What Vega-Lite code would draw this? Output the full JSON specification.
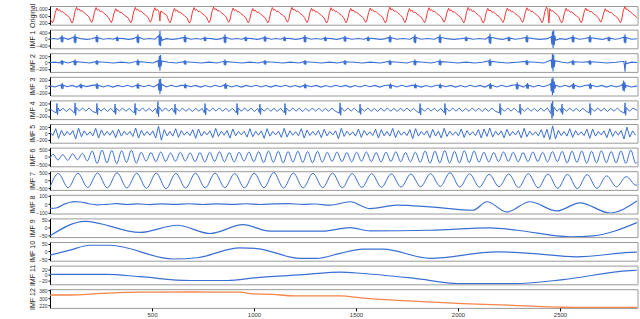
{
"$schema": "https://vega.github.io/schema/vega-lite/v6.json",
"padding": {"left": 27, "top": 2, "right": 2, "bottom": 0},
"bounds": "flush",
"spacing": 4.6,
"config": {
 "font": "Liberation Sans",
 "view": {"stroke": "#9a9a9a", "strokeWidth": 1},
 "axis": {"grid": false, "domainColor": "#000", "tickColor": "#000", "labelColor": "#333", "titleColor": "#222", "titleFontWeight": "normal"},
 "axisY": {"labelFontSize": 5, "tickSize": 2, "labelPadding": 1, "titleFontSize": 7, "titlePadding": 2, "minExtent": 13, "maxExtent": 13},
 "axisX": {"labelFontSize": 6, "tickSize": 3, "labelPadding": 1, "domain": false}
},
"datasets": {
"o": [
{"t":0,"v":450},{"t":6,"v":320},{"t":12,"v":210},{"t":18,"v":350},{"t":26,"v":790},{"t":34,"v":1040},{"t":40,"v":890},{"t":46,"v":950},{"t":54,"v":820},{"t":62,"v":840},{"t":72,"v":720},{"t":84,"v":620},
{"t":96,"v":500},{"t":102,"v":310},{"t":108,"v":190},{"t":114,"v":330},{"t":122,"v":830},{"t":130,"v":1080},{"t":136,"v":930},{"t":142,"v":990},{"t":150,"v":860},{"t":158,"v":880},{"t":168,"v":760},{"t":180,"v":660},
{"t":192,"v":520},{"t":198,"v":350},{"t":204,"v":230},{"t":210,"v":370},{"t":218,"v":810},{"t":226,"v":1060},{"t":232,"v":910},{"t":238,"v":970},{"t":246,"v":840},{"t":254,"v":860},{"t":264,"v":740},{"t":276,"v":640},
{"t":288,"v":480},{"t":294,"v":340},{"t":300,"v":220},{"t":306,"v":360},{"t":314,"v":750},{"t":322,"v":1000},{"t":328,"v":860},{"t":334,"v":910},{"t":342,"v":780},{"t":350,"v":800},{"t":360,"v":680},{"t":372,"v":580},
{"t":384,"v":470},{"t":390,"v":320},{"t":396,"v":200},{"t":402,"v":340},{"t":410,"v":820},{"t":418,"v":1070},{"t":424,"v":920},{"t":430,"v":980},{"t":438,"v":850},{"t":446,"v":870},{"t":456,"v":750},{"t":468,"v":650},
{"t":480,"v":510},{"t":486,"v":360},{"t":492,"v":240},{"t":498,"v":380},{"t":506,"v":800},{"t":514,"v":1050},{"t":520,"v":900},{"t":526,"v":960},{"t":534,"v":830},{"t":539,"v":300},{"t":542,"v":850},{"t":550,"v":820},{"t":560,"v":730},{"t":572,"v":630},
{"t":576,"v":500},{"t":582,"v":330},{"t":588,"v":210},{"t":594,"v":350},{"t":602,"v":770},{"t":610,"v":1020},{"t":616,"v":870},{"t":622,"v":930},{"t":630,"v":800},{"t":638,"v":820},{"t":648,"v":700},{"t":660,"v":600},
{"t":672,"v":480},{"t":678,"v":310},{"t":684,"v":190},{"t":690,"v":330},{"t":698,"v":810},{"t":706,"v":1060},{"t":712,"v":910},{"t":718,"v":970},{"t":726,"v":840},{"t":734,"v":860},{"t":744,"v":740},{"t":756,"v":640},
{"t":768,"v":510},{"t":774,"v":340},{"t":780,"v":220},{"t":786,"v":360},{"t":794,"v":840},{"t":802,"v":1090},{"t":808,"v":940},{"t":814,"v":1000},{"t":822,"v":870},{"t":830,"v":890},{"t":840,"v":770},{"t":852,"v":670},
{"t":864,"v":530},{"t":870,"v":350},{"t":876,"v":230},{"t":882,"v":370},{"t":890,"v":790},{"t":898,"v":1040},{"t":904,"v":890},{"t":910,"v":950},{"t":918,"v":820},{"t":926,"v":840},{"t":936,"v":720},{"t":948,"v":620},
{"t":960,"v":490},{"t":966,"v":320},{"t":972,"v":200},{"t":978,"v":340},{"t":986,"v":760},{"t":994,"v":1010},{"t":1000,"v":860},{"t":1006,"v":920},{"t":1014,"v":790},{"t":1022,"v":810},{"t":1032,"v":690},{"t":1044,"v":590},
{"t":1056,"v":470},{"t":1062,"v":330},{"t":1068,"v":210},{"t":1074,"v":350},{"t":1082,"v":810},{"t":1090,"v":1060},{"t":1096,"v":910},{"t":1102,"v":970},{"t":1110,"v":840},{"t":1118,"v":860},{"t":1128,"v":740},{"t":1140,"v":640},
{"t":1152,"v":520},{"t":1158,"v":360},{"t":1164,"v":240},{"t":1170,"v":380},{"t":1178,"v":820},{"t":1186,"v":1070},{"t":1192,"v":920},{"t":1198,"v":980},{"t":1206,"v":850},{"t":1214,"v":870},{"t":1224,"v":750},{"t":1236,"v":650},
{"t":1248,"v":510},{"t":1254,"v":340},{"t":1260,"v":220},{"t":1266,"v":360},{"t":1274,"v":780},{"t":1282,"v":1030},{"t":1288,"v":880},{"t":1294,"v":940},{"t":1302,"v":810},{"t":1310,"v":830},{"t":1320,"v":710},{"t":1332,"v":610},
{"t":1344,"v":480},{"t":1350,"v":310},{"t":1356,"v":190},{"t":1362,"v":330},{"t":1370,"v":800},{"t":1378,"v":1050},{"t":1384,"v":900},{"t":1390,"v":960},{"t":1398,"v":830},{"t":1406,"v":850},{"t":1416,"v":730},{"t":1428,"v":630},
{"t":1440,"v":490},{"t":1446,"v":330},{"t":1452,"v":210},{"t":1458,"v":350},{"t":1466,"v":770},{"t":1474,"v":1020},{"t":1480,"v":870},{"t":1486,"v":930},{"t":1494,"v":800},{"t":1502,"v":820},{"t":1512,"v":700},{"t":1524,"v":600},
{"t":1536,"v":480},{"t":1542,"v":350},{"t":1548,"v":230},{"t":1554,"v":370},{"t":1562,"v":790},{"t":1570,"v":1040},{"t":1576,"v":890},{"t":1582,"v":950},{"t":1590,"v":820},{"t":1598,"v":840},{"t":1608,"v":720},{"t":1620,"v":620},
{"t":1632,"v":500},{"t":1638,"v":320},{"t":1644,"v":200},{"t":1650,"v":340},{"t":1658,"v":830},{"t":1666,"v":1080},{"t":1672,"v":930},{"t":1678,"v":990},{"t":1686,"v":860},{"t":1694,"v":880},{"t":1704,"v":760},{"t":1716,"v":660},
{"t":1728,"v":520},{"t":1734,"v":340},{"t":1740,"v":220},{"t":1746,"v":360},{"t":1754,"v":760},{"t":1762,"v":1010},{"t":1768,"v":860},{"t":1774,"v":920},{"t":1782,"v":790},{"t":1790,"v":810},{"t":1800,"v":690},{"t":1812,"v":590},
{"t":1824,"v":470},{"t":1830,"v":330},{"t":1836,"v":210},{"t":1842,"v":350},{"t":1850,"v":800},{"t":1858,"v":1050},{"t":1864,"v":900},{"t":1870,"v":960},{"t":1878,"v":830},{"t":1886,"v":850},{"t":1896,"v":730},{"t":1908,"v":630},
{"t":1920,"v":510},{"t":1926,"v":360},{"t":1932,"v":240},{"t":1938,"v":380},{"t":1946,"v":780},{"t":1954,"v":1030},{"t":1960,"v":880},{"t":1966,"v":940},{"t":1974,"v":810},{"t":1982,"v":830},{"t":1992,"v":710},{"t":2004,"v":610},
{"t":2016,"v":490},{"t":2022,"v":320},{"t":2028,"v":200},{"t":2034,"v":340},{"t":2042,"v":820},{"t":2050,"v":1070},{"t":2056,"v":920},{"t":2062,"v":980},{"t":2070,"v":850},{"t":2078,"v":870},{"t":2088,"v":750},{"t":2100,"v":650},
{"t":2112,"v":510},{"t":2118,"v":310},{"t":2124,"v":190},{"t":2130,"v":330},{"t":2138,"v":770},{"t":2146,"v":1020},{"t":2152,"v":870},{"t":2158,"v":930},{"t":2166,"v":800},{"t":2174,"v":820},{"t":2184,"v":700},{"t":2196,"v":600},
{"t":2208,"v":480},{"t":2214,"v":340},{"t":2220,"v":220},{"t":2226,"v":360},{"t":2234,"v":790},{"t":2242,"v":1040},{"t":2248,"v":890},{"t":2254,"v":950},{"t":2262,"v":820},{"t":2270,"v":840},{"t":2280,"v":720},{"t":2292,"v":620},
{"t":2304,"v":500},{"t":2310,"v":350},{"t":2316,"v":230},{"t":2322,"v":370},{"t":2330,"v":800},{"t":2338,"v":1050},{"t":2344,"v":900},{"t":2350,"v":960},{"t":2358,"v":830},{"t":2366,"v":850},{"t":2376,"v":730},{"t":2388,"v":630},
{"t":2400,"v":490},{"t":2406,"v":330},{"t":2412,"v":210},{"t":2418,"v":350},{"t":2426,"v":840},{"t":2434,"v":1090},{"t":2440,"v":940},{"t":2446,"v":200},{"t":2450,"v":1000},{"t":2456,"v":870},{"t":2464,"v":890},{"t":2474,"v":770},{"t":2486,"v":670},
{"t":2496,"v":520},{"t":2502,"v":320},{"t":2508,"v":200},{"t":2514,"v":340},{"t":2522,"v":770},{"t":2530,"v":1020},{"t":2536,"v":870},{"t":2542,"v":930},{"t":2550,"v":800},{"t":2558,"v":820},{"t":2568,"v":700},{"t":2580,"v":600},
{"t":2592,"v":500},{"t":2598,"v":340},{"t":2604,"v":220},{"t":2610,"v":360},{"t":2618,"v":790},{"t":2626,"v":1040},{"t":2632,"v":890},{"t":2638,"v":950},{"t":2646,"v":820},{"t":2654,"v":840},{"t":2664,"v":720},{"t":2676,"v":620},
{"t":2688,"v":490},{"t":2694,"v":360},{"t":2700,"v":240},{"t":2706,"v":380},{"t":2714,"v":750},{"t":2722,"v":1000},{"t":2728,"v":850},{"t":2734,"v":910},{"t":2742,"v":780},{"t":2750,"v":800},{"t":2760,"v":680},{"t":2772,"v":580},
{"t":2784,"v":470},{"t":2790,"v":330},{"t":2796,"v":210},{"t":2802,"v":350},{"t":2810,"v":870},{"t":2818,"v":1120},{"t":2824,"v":950},{"t":2830,"v":990},{"t":2838,"v":860},{"t":2846,"v":820},{"t":2856,"v":700},{"t":2868,"v":600},{"t":2879,"v":480}
],
"a1": [
{"t":0,"v":0},{"t":20,"v":25},{"t":40,"v":-20},
{"t":53,"v":100},{"t":56,"v":-200},{"t":59,"v":250},{"t":62,"v":-225},{"t":65,"v":75},{"t":90,"v":-25},
{"t":117,"v":120},{"t":120,"v":-240},{"t":123,"v":300},{"t":126,"v":-270},{"t":129,"v":90},{"t":150,"v":20},{"t":180,"v":-25},{"t":205,"v":15},
{"t":224,"v":100},{"t":227,"v":-200},{"t":230,"v":250},{"t":233,"v":-225},{"t":236,"v":75},{"t":260,"v":-20},{"t":290,"v":25},{"t":310,"v":-15},
{"t":324,"v":60},{"t":327,"v":-120},{"t":330,"v":150},{"t":333,"v":-135},{"t":336,"v":45},{"t":360,"v":20},{"t":385,"v":-25},{"t":410,"v":20},
{"t":425,"v":120},{"t":428,"v":-240},{"t":431,"v":300},{"t":434,"v":-270},{"t":437,"v":90},{"t":460,"v":-20},{"t":490,"v":25},{"t":515,"v":-20},
{"t":533,"v":210},{"t":536,"v":-420},{"t":539,"v":520},{"t":542,"v":-470},{"t":545,"v":160},{"t":549,"v":-80},{"t":570,"v":20},{"t":600,"v":-25},{"t":630,"v":20},
{"t":656,"v":100},{"t":659,"v":-200},{"t":662,"v":250},{"t":665,"v":-225},{"t":668,"v":75},{"t":690,"v":-20},{"t":720,"v":25},{"t":740,"v":-15},
{"t":754,"v":60},{"t":757,"v":-120},{"t":760,"v":150},{"t":763,"v":-135},{"t":766,"v":45},{"t":790,"v":20},{"t":815,"v":-25},{"t":840,"v":20},
{"t":852,"v":120},{"t":855,"v":-240},{"t":858,"v":300},{"t":861,"v":-270},{"t":864,"v":90},{"t":890,"v":-20},{"t":915,"v":25},{"t":940,"v":-20},
{"t":954,"v":60},{"t":957,"v":-120},{"t":960,"v":150},{"t":963,"v":-135},{"t":966,"v":45},{"t":990,"v":20},{"t":1015,"v":-25},{"t":1035,"v":20},
{"t":1048,"v":80},{"t":1051,"v":-160},{"t":1054,"v":200},{"t":1057,"v":-180},{"t":1060,"v":60},{"t":1085,"v":-20},{"t":1110,"v":25},{"t":1130,"v":-20},
{"t":1144,"v":60},{"t":1147,"v":-120},{"t":1150,"v":150},{"t":1153,"v":-135},{"t":1156,"v":45},{"t":1180,"v":20},{"t":1205,"v":-25},{"t":1230,"v":20},
{"t":1244,"v":100},{"t":1247,"v":-200},{"t":1250,"v":250},{"t":1253,"v":-225},{"t":1256,"v":75},{"t":1280,"v":-20},{"t":1305,"v":25},{"t":1330,"v":-20},
{"t":1344,"v":60},{"t":1347,"v":-120},{"t":1350,"v":150},{"t":1353,"v":-135},{"t":1356,"v":45},{"t":1380,"v":20},{"t":1405,"v":-25},{"t":1425,"v":20},
{"t":1440,"v":80},{"t":1443,"v":-160},{"t":1446,"v":200},{"t":1449,"v":-180},{"t":1452,"v":60},{"t":1480,"v":-20},{"t":1510,"v":25},{"t":1540,"v":-20},
{"t":1554,"v":60},{"t":1557,"v":-120},{"t":1560,"v":150},{"t":1563,"v":-135},{"t":1566,"v":45},{"t":1590,"v":20},{"t":1620,"v":-25},{"t":1645,"v":20},
{"t":1661,"v":100},{"t":1664,"v":-200},{"t":1667,"v":250},{"t":1670,"v":-225},{"t":1673,"v":75},{"t":1700,"v":-20},{"t":1730,"v":25},{"t":1765,"v":-20},
{"t":1783,"v":120},{"t":1786,"v":-240},{"t":1789,"v":300},{"t":1792,"v":-270},{"t":1795,"v":90},{"t":1820,"v":-20},{"t":1850,"v":25},{"t":1885,"v":-20},
{"t":1906,"v":120},{"t":1909,"v":-240},{"t":1912,"v":300},{"t":1915,"v":-270},{"t":1918,"v":90},{"t":1945,"v":20},{"t":1980,"v":-25},{"t":2015,"v":20},
{"t":2034,"v":60},{"t":2037,"v":-120},{"t":2040,"v":150},{"t":2043,"v":-135},{"t":2046,"v":45},{"t":2075,"v":-20},{"t":2105,"v":25},{"t":2135,"v":-20},
{"t":2151,"v":140},{"t":2154,"v":-280},{"t":2157,"v":350},{"t":2160,"v":-315},{"t":2163,"v":105},{"t":2190,"v":20},{"t":2220,"v":-25},
{"t":2244,"v":60},{"t":2247,"v":-120},{"t":2250,"v":150},{"t":2253,"v":-135},{"t":2256,"v":45},{"t":2280,"v":-20},{"t":2310,"v":25},
{"t":2332,"v":100},{"t":2335,"v":-200},{"t":2338,"v":250},{"t":2341,"v":-225},{"t":2344,"v":75},{"t":2370,"v":20},{"t":2400,"v":-25},{"t":2440,"v":20},
{"t":2457,"v":150},{"t":2460,"v":-350},{"t":2463,"v":500},{"t":2466,"v":-580},{"t":2469,"v":560},{"t":2472,"v":-400},{"t":2475,"v":200},{"t":2479,"v":-80},{"t":2500,"v":20},{"t":2530,"v":-25},
{"t":2558,"v":100},{"t":2561,"v":-200},{"t":2564,"v":250},{"t":2567,"v":-225},{"t":2570,"v":75},{"t":2595,"v":-20},{"t":2625,"v":25},
{"t":2641,"v":100},{"t":2644,"v":-200},{"t":2647,"v":250},{"t":2650,"v":-225},{"t":2653,"v":75},{"t":2680,"v":20},{"t":2710,"v":-25},
{"t":2734,"v":60},{"t":2737,"v":-120},{"t":2740,"v":150},{"t":2743,"v":-135},{"t":2746,"v":45},{"t":2770,"v":-20},{"t":2795,"v":25},
{"t":2813,"v":120},{"t":2816,"v":-240},{"t":2819,"v":300},{"t":2822,"v":-270},{"t":2825,"v":90},{"t":2850,"v":-20},{"t":2879,"v":10}
],
"a2": [
{"t":0,"v":0},{"t":25,"v":12},{"t":45,"v":-10},
{"t":53,"v":30},{"t":56,"v":-60},{"t":59,"v":80},{"t":62,"v":-70},{"t":65,"v":25},{"t":90,"v":-12},
{"t":117,"v":40},{"t":120,"v":-80},{"t":123,"v":100},{"t":126,"v":-90},{"t":129,"v":30},{"t":160,"v":12},{"t":195,"v":-12},
{"t":224,"v":30},{"t":227,"v":-60},{"t":230,"v":80},{"t":233,"v":-70},{"t":236,"v":25},{"t":270,"v":12},{"t":310,"v":-12},{"t":350,"v":12},{"t":390,"v":-12},
{"t":425,"v":40},{"t":428,"v":-80},{"t":431,"v":100},{"t":434,"v":-90},{"t":437,"v":30},{"t":470,"v":12},{"t":505,"v":-12},
{"t":530,"v":60},{"t":533,"v":-150},{"t":536,"v":220},{"t":539,"v":-260},{"t":542,"v":240},{"t":545,"v":-120},{"t":548,"v":50},{"t":580,"v":12},{"t":620,"v":-12},
{"t":656,"v":30},{"t":659,"v":-60},{"t":662,"v":80},{"t":665,"v":-70},{"t":668,"v":25},{"t":700,"v":12},{"t":740,"v":-12},{"t":780,"v":12},{"t":820,"v":-12},
{"t":852,"v":40},{"t":855,"v":-80},{"t":858,"v":100},{"t":861,"v":-90},{"t":864,"v":30},{"t":900,"v":12},{"t":940,"v":-12},{"t":980,"v":12},{"t":1020,"v":-12},
{"t":1048,"v":30},{"t":1051,"v":-60},{"t":1054,"v":80},{"t":1057,"v":-70},{"t":1060,"v":25},{"t":1100,"v":12},{"t":1140,"v":-12},{"t":1180,"v":12},{"t":1220,"v":-12},
{"t":1244,"v":30},{"t":1247,"v":-60},{"t":1250,"v":80},{"t":1253,"v":-70},{"t":1256,"v":25},{"t":1290,"v":12},{"t":1330,"v":-12},{"t":1370,"v":12},{"t":1410,"v":-12},
{"t":1440,"v":30},{"t":1443,"v":-60},{"t":1446,"v":80},{"t":1449,"v":-70},{"t":1452,"v":25},{"t":1490,"v":12},{"t":1530,"v":-12},{"t":1570,"v":12},{"t":1620,"v":-12},
{"t":1661,"v":35},{"t":1664,"v":-70},{"t":1667,"v":90},{"t":1670,"v":-80},{"t":1673,"v":25},{"t":1710,"v":12},{"t":1750,"v":-12},
{"t":1783,"v":40},{"t":1786,"v":-80},{"t":1789,"v":100},{"t":1792,"v":-90},{"t":1795,"v":30},{"t":1830,"v":12},{"t":1870,"v":-12},
{"t":1906,"v":40},{"t":1909,"v":-80},{"t":1912,"v":100},{"t":1915,"v":-90},{"t":1918,"v":30},{"t":1960,"v":12},{"t":2000,"v":-12},{"t":2040,"v":12},{"t":2080,"v":-12},{"t":2120,"v":12},
{"t":2151,"v":50},{"t":2154,"v":-100},{"t":2157,"v":120},{"t":2160,"v":-110},{"t":2163,"v":35},{"t":2200,"v":12},{"t":2240,"v":-12},{"t":2290,"v":12},
{"t":2332,"v":35},{"t":2335,"v":-70},{"t":2338,"v":90},{"t":2341,"v":-80},{"t":2344,"v":25},{"t":2380,"v":12},{"t":2420,"v":-12},
{"t":2457,"v":80},{"t":2460,"v":-180},{"t":2463,"v":270},{"t":2466,"v":-290},{"t":2469,"v":250},{"t":2472,"v":-150},{"t":2476,"v":60},{"t":2510,"v":12},{"t":2540,"v":-12},
{"t":2558,"v":35},{"t":2561,"v":-70},{"t":2564,"v":90},{"t":2567,"v":-80},{"t":2570,"v":25},{"t":2610,"v":12},
{"t":2641,"v":30},{"t":2644,"v":-60},{"t":2647,"v":80},{"t":2650,"v":-70},{"t":2653,"v":25},{"t":2690,"v":12},{"t":2730,"v":-12},{"t":2775,"v":12},
{"t":2813,"v":40},{"t":2816,"v":-100},{"t":2819,"v":-290},{"t":2822,"v":60},{"t":2825,"v":-40},{"t":2850,"v":12},{"t":2879,"v":0}
],
"a3": [
{"t":0,"v":10},{"t":24,"v":-25},{"t":48,"v":30},
{"t":54,"v":40},{"t":57,"v":-80},{"t":60,"v":100},{"t":63,"v":-90},{"t":66,"v":30},
{"t":84,"v":-20},{"t":108,"v":25},{"t":132,"v":-30},
{"t":146,"v":30},{"t":149,"v":-60},{"t":152,"v":80},{"t":155,"v":-70},{"t":158,"v":25},
{"t":180,"v":-15},{"t":204,"v":25},
{"t":225,"v":40},{"t":228,"v":-80},{"t":231,"v":100},{"t":234,"v":-90},{"t":237,"v":30},
{"t":260,"v":-25},{"t":284,"v":20},{"t":308,"v":-30},{"t":332,"v":25},{"t":356,"v":-20},{"t":380,"v":30},{"t":404,"v":-25},
{"t":425,"v":35},{"t":428,"v":-70},{"t":431,"v":90},{"t":434,"v":-80},{"t":437,"v":30},
{"t":460,"v":-20},{"t":484,"v":30},{"t":508,"v":-25},
{"t":530,"v":60},{"t":533,"v":-140},{"t":536,"v":220},{"t":539,"v":-260},{"t":542,"v":240},{"t":545,"v":-150},{"t":548,"v":60},
{"t":570,"v":-25},{"t":594,"v":30},{"t":618,"v":-20},{"t":642,"v":25},
{"t":657,"v":30},{"t":660,"v":-60},{"t":663,"v":80},{"t":666,"v":-70},{"t":669,"v":25},
{"t":690,"v":-20},{"t":714,"v":25},{"t":738,"v":-30},{"t":762,"v":20},{"t":786,"v":-25},{"t":810,"v":30},{"t":834,"v":-20},
{"t":855,"v":40},{"t":858,"v":-80},{"t":861,"v":100},{"t":864,"v":-90},{"t":867,"v":30},
{"t":890,"v":-25},{"t":914,"v":20},{"t":938,"v":-30},{"t":962,"v":25},{"t":986,"v":-20},{"t":1010,"v":30},{"t":1034,"v":-25},{"t":1058,"v":20},{"t":1082,"v":-30},{"t":1106,"v":25},{"t":1130,"v":-20},{"t":1154,"v":30},{"t":1178,"v":-25},{"t":1202,"v":20},{"t":1226,"v":-30},
{"t":1245,"v":30},{"t":1248,"v":-60},{"t":1251,"v":80},{"t":1254,"v":-70},{"t":1257,"v":25},
{"t":1280,"v":-20},{"t":1304,"v":25},{"t":1328,"v":-30},{"t":1352,"v":20},{"t":1376,"v":-25},{"t":1400,"v":30},{"t":1424,"v":-20},{"t":1448,"v":25},{"t":1472,"v":-30},{"t":1496,"v":20},{"t":1520,"v":-25},{"t":1544,"v":30},{"t":1568,"v":-20},{"t":1592,"v":25},{"t":1616,"v":-30},{"t":1640,"v":20},
{"t":1663,"v":35},{"t":1666,"v":-70},{"t":1669,"v":90},{"t":1672,"v":-80},{"t":1675,"v":30},
{"t":1700,"v":-25},{"t":1724,"v":30},{"t":1748,"v":-20},{"t":1772,"v":25},
{"t":1785,"v":30},{"t":1788,"v":-60},{"t":1791,"v":80},{"t":1794,"v":-70},{"t":1797,"v":25},
{"t":1820,"v":-30},{"t":1844,"v":20},{"t":1868,"v":-25},{"t":1892,"v":30},
{"t":1907,"v":30},{"t":1910,"v":-60},{"t":1913,"v":80},{"t":1916,"v":-70},{"t":1919,"v":25},
{"t":1940,"v":-20},{"t":1964,"v":25},{"t":1988,"v":-30},{"t":2012,"v":20},{"t":2036,"v":-25},{"t":2060,"v":30},{"t":2084,"v":-20},{"t":2108,"v":25},{"t":2132,"v":-30},
{"t":2153,"v":40},{"t":2156,"v":-80},{"t":2159,"v":100},{"t":2162,"v":-90},{"t":2165,"v":30},
{"t":2190,"v":-25},{"t":2214,"v":30},{"t":2238,"v":-20},{"t":2262,"v":25},
{"t":2284,"v":45},{"t":2287,"v":-95},{"t":2290,"v":120},{"t":2293,"v":-105},{"t":2296,"v":35},
{"t":2320,"v":-30},
{"t":2335,"v":40},{"t":2338,"v":-80},{"t":2341,"v":100},{"t":2344,"v":-85},{"t":2347,"v":30},
{"t":2370,"v":-25},{"t":2394,"v":30},{"t":2418,"v":-20},{"t":2442,"v":25},
{"t":2454,"v":80},{"t":2457,"v":-160},{"t":2460,"v":240},{"t":2463,"v":-290},{"t":2466,"v":280},{"t":2469,"v":-220},{"t":2472,"v":150},{"t":2475,"v":-80},{"t":2479,"v":30},
{"t":2500,"v":-25},{"t":2524,"v":30},{"t":2548,"v":-20},
{"t":2560,"v":40},{"t":2563,"v":-80},{"t":2566,"v":100},{"t":2569,"v":-90},{"t":2572,"v":30},
{"t":2596,"v":-25},{"t":2620,"v":20},
{"t":2643,"v":40},{"t":2646,"v":-80},{"t":2649,"v":100},{"t":2652,"v":-90},{"t":2655,"v":30},
{"t":2680,"v":-20},{"t":2704,"v":25},{"t":2728,"v":-30},{"t":2752,"v":20},{"t":2776,"v":-25},{"t":2800,"v":20},
{"t":2806,"v":60},{"t":2809,"v":-140},{"t":2812,"v":180},{"t":2815,"v":-170},{"t":2818,"v":120},{"t":2821,"v":-60},{"t":2825,"v":20},
{"t":2850,"v":-25},{"t":2879,"v":10}
],
"a4": [
{"t":0,"v":30},{"t":16,"v":-50},
{"t":31,"v":-100},{"t":34,"v":200},{"t":37,"v":-160},{"t":40,"v":60},
{"t":48,"v":-40},{"t":64,"v":50},{"t":80,"v":-60},{"t":96,"v":40},{"t":112,"v":-50},
{"t":120,"v":-110},{"t":123,"v":220},{"t":126,"v":-180},{"t":129,"v":70},
{"t":144,"v":-40},{"t":160,"v":55},{"t":176,"v":-45},{"t":192,"v":60},{"t":208,"v":-50},
{"t":227,"v":-100},{"t":230,"v":200},{"t":233,"v":-160},{"t":236,"v":60},
{"t":250,"v":-45},{"t":266,"v":50},{"t":282,"v":-60},{"t":298,"v":45},
{"t":316,"v":-90},{"t":319,"v":180},{"t":322,"v":-150},{"t":325,"v":50},
{"t":340,"v":-40},{"t":356,"v":55},{"t":372,"v":-50},{"t":388,"v":40},{"t":404,"v":-55},
{"t":414,"v":-100},{"t":417,"v":200},{"t":420,"v":-170},{"t":423,"v":60},
{"t":438,"v":-45},{"t":454,"v":60},{"t":470,"v":-50},{"t":486,"v":45},{"t":502,"v":-60},{"t":518,"v":50},
{"t":526,"v":-130},{"t":529,"v":260},{"t":532,"v":-230},{"t":535,"v":90},
{"t":550,"v":-50},{"t":566,"v":60},{"t":582,"v":-45},{"t":598,"v":50},
{"t":610,"v":-90},{"t":613,"v":180},{"t":616,"v":-150},{"t":619,"v":50},
{"t":634,"v":-45},{"t":650,"v":55},{"t":666,"v":-50},{"t":682,"v":40},{"t":698,"v":-60},{"t":714,"v":50},{"t":730,"v":-45},{"t":746,"v":40},
{"t":757,"v":-100},{"t":760,"v":200},{"t":763,"v":-170},{"t":766,"v":60},
{"t":782,"v":-50},{"t":798,"v":55},{"t":814,"v":-45},{"t":830,"v":60},{"t":846,"v":-50},{"t":862,"v":45},{"t":878,"v":-55},{"t":894,"v":50},
{"t":914,"v":-100},{"t":917,"v":200},{"t":920,"v":-170},{"t":923,"v":60},
{"t":938,"v":-50},{"t":954,"v":55},{"t":970,"v":-45},{"t":986,"v":50},{"t":1002,"v":-60},{"t":1018,"v":45},
{"t":1026,"v":-90},{"t":1029,"v":180},{"t":1032,"v":-150},{"t":1035,"v":50},
{"t":1050,"v":-45},{"t":1066,"v":55},{"t":1082,"v":-50},{"t":1098,"v":45},{"t":1114,"v":-55},{"t":1130,"v":50},
{"t":1149,"v":-100},{"t":1152,"v":200},{"t":1155,"v":-170},{"t":1158,"v":60},
{"t":1174,"v":-50},{"t":1190,"v":55},{"t":1206,"v":-45},{"t":1222,"v":50},{"t":1238,"v":-60},{"t":1254,"v":45},{"t":1270,"v":-50},{"t":1286,"v":55},{"t":1302,"v":-45},{"t":1318,"v":50},{"t":1334,"v":-55},{"t":1350,"v":45},{"t":1366,"v":-50},{"t":1382,"v":55},{"t":1398,"v":-45},
{"t":1419,"v":-110},{"t":1422,"v":220},{"t":1425,"v":-180},{"t":1428,"v":70},
{"t":1444,"v":-50},{"t":1460,"v":55},{"t":1476,"v":-45},{"t":1492,"v":50},{"t":1508,"v":-55},
{"t":1517,"v":-90},{"t":1520,"v":180},{"t":1523,"v":-150},{"t":1526,"v":50},
{"t":1542,"v":-45},{"t":1558,"v":55},{"t":1574,"v":-50},{"t":1590,"v":45},{"t":1606,"v":-55},{"t":1622,"v":50},{"t":1638,"v":-45},{"t":1654,"v":55},{"t":1670,"v":-50},{"t":1686,"v":45},{"t":1702,"v":-55},{"t":1718,"v":50},{"t":1734,"v":-45},{"t":1750,"v":55},{"t":1766,"v":-50},{"t":1782,"v":45},{"t":1798,"v":-55},
{"t":1811,"v":-100},{"t":1814,"v":200},{"t":1817,"v":-170},{"t":1820,"v":60},
{"t":1836,"v":-50},{"t":1852,"v":55},{"t":1868,"v":-45},{"t":1884,"v":50},{"t":1900,"v":-55},{"t":1916,"v":45},
{"t":1933,"v":-100},{"t":1936,"v":200},{"t":1939,"v":-170},{"t":1942,"v":60},
{"t":1958,"v":-50},{"t":1974,"v":55},{"t":1990,"v":-45},{"t":2006,"v":50},{"t":2022,"v":-55},{"t":2038,"v":45},{"t":2054,"v":-50},{"t":2070,"v":55},{"t":2086,"v":-45},{"t":2102,"v":50},{"t":2118,"v":-55},{"t":2134,"v":45},{"t":2150,"v":-50},{"t":2166,"v":55},{"t":2182,"v":-45},
{"t":2203,"v":-100},{"t":2206,"v":200},{"t":2209,"v":-170},{"t":2212,"v":60},
{"t":2228,"v":-50},{"t":2244,"v":55},{"t":2260,"v":-45},{"t":2276,"v":50},{"t":2292,"v":-55},
{"t":2301,"v":-90},{"t":2304,"v":180},{"t":2307,"v":-150},{"t":2310,"v":50},
{"t":2326,"v":-45},{"t":2342,"v":55},{"t":2358,"v":-50},{"t":2374,"v":45},{"t":2390,"v":-55},{"t":2406,"v":50},{"t":2422,"v":-45},{"t":2438,"v":55},
{"t":2455,"v":-120},{"t":2458,"v":200},{"t":2461,"v":-280},{"t":2464,"v":280},{"t":2467,"v":-200},{"t":2470,"v":90},
{"t":2486,"v":-50},{"t":2500,"v":45},
{"t":2507,"v":-90},{"t":2510,"v":180},{"t":2513,"v":-150},{"t":2516,"v":50},
{"t":2532,"v":-45},{"t":2548,"v":55},{"t":2564,"v":-50},{"t":2580,"v":45},{"t":2596,"v":-55},{"t":2612,"v":50},{"t":2628,"v":-45},
{"t":2644,"v":-100},{"t":2647,"v":200},{"t":2650,"v":-170},{"t":2653,"v":60},
{"t":2669,"v":-50},{"t":2685,"v":55},{"t":2701,"v":-45},{"t":2717,"v":50},{"t":2733,"v":-55},{"t":2749,"v":45},{"t":2765,"v":-50},{"t":2781,"v":55},{"t":2797,"v":-45},
{"t":2816,"v":-110},{"t":2819,"v":220},{"t":2822,"v":-180},{"t":2825,"v":70},
{"t":2841,"v":-50},{"t":2857,"v":55},{"t":2879,"v":-20}
],
"a5": [
{"t":0,"v":40},{"t":14,"v":-70},{"t":28,"v":150},{"t":42,"v":-160},{"t":56,"v":100},{"t":70,"v":-80},{"t":84,"v":60},{"t":98,"v":-50},{"t":112,"v":90},{"t":126,"v":-180},
{"t":140,"v":170},{"t":154,"v":-110},{"t":168,"v":80},{"t":182,"v":-60},{"t":196,"v":50},{"t":210,"v":-80},{"t":224,"v":160},{"t":238,"v":-150},{"t":252,"v":110},{"t":266,"v":-70},
{"t":280,"v":60},{"t":294,"v":-60},{"t":308,"v":90},{"t":322,"v":-140},{"t":336,"v":130},{"t":350,"v":-90},{"t":364,"v":70},{"t":378,"v":-50},{"t":392,"v":60},{"t":406,"v":-100},
{"t":420,"v":170},{"t":434,"v":-150},{"t":448,"v":100},{"t":462,"v":-70},{"t":476,"v":60},{"t":490,"v":-60},{"t":504,"v":80},{"t":518,"v":-150},{"t":532,"v":230},{"t":546,"v":-220},
{"t":560,"v":120},{"t":574,"v":-80},{"t":588,"v":60},{"t":602,"v":-90},{"t":616,"v":150},{"t":630,"v":-130},{"t":644,"v":90},{"t":658,"v":-60},{"t":672,"v":50},{"t":686,"v":-70},
{"t":700,"v":120},{"t":714,"v":-160},{"t":728,"v":140},{"t":742,"v":-90},{"t":756,"v":60},{"t":770,"v":-50},{"t":784,"v":80},{"t":798,"v":-140},{"t":812,"v":160},{"t":826,"v":-100},
{"t":840,"v":70},{"t":854,"v":-60},{"t":868,"v":90},{"t":882,"v":-150},{"t":896,"v":140},{"t":910,"v":-80},{"t":924,"v":60},{"t":938,"v":-50},{"t":952,"v":70},{"t":966,"v":-120},
{"t":980,"v":150},{"t":994,"v":-110},{"t":1008,"v":70},{"t":1022,"v":-60},{"t":1036,"v":80},{"t":1050,"v":-160},{"t":1064,"v":150},{"t":1078,"v":-90},{"t":1092,"v":60},{"t":1106,"v":-50},
{"t":1120,"v":70},{"t":1134,"v":-130},{"t":1148,"v":160},{"t":1162,"v":-120},{"t":1176,"v":80},{"t":1190,"v":-60},{"t":1204,"v":50},{"t":1218,"v":-80},{"t":1232,"v":150},{"t":1246,"v":-150},
{"t":1260,"v":100},{"t":1274,"v":-70},{"t":1288,"v":60},{"t":1302,"v":-60},{"t":1316,"v":90},{"t":1330,"v":-140},{"t":1344,"v":130},{"t":1358,"v":-80},{"t":1372,"v":60},{"t":1386,"v":-50},
{"t":1400,"v":80},{"t":1414,"v":-170},{"t":1428,"v":160},{"t":1442,"v":-100},{"t":1456,"v":70},{"t":1470,"v":-60},{"t":1484,"v":50},{"t":1498,"v":-90},{"t":1512,"v":140},{"t":1526,"v":-130},
{"t":1540,"v":90},{"t":1554,"v":-60},{"t":1568,"v":50},{"t":1582,"v":-70},{"t":1596,"v":130},{"t":1610,"v":-150},{"t":1624,"v":120},{"t":1638,"v":-80},{"t":1652,"v":60},{"t":1666,"v":-90},
{"t":1680,"v":160},{"t":1694,"v":-140},{"t":1708,"v":90},{"t":1722,"v":-60},{"t":1736,"v":50},{"t":1750,"v":-70},{"t":1764,"v":120},{"t":1778,"v":-170},{"t":1792,"v":150},{"t":1806,"v":-90},
{"t":1820,"v":60},{"t":1834,"v":-50},{"t":1848,"v":80},{"t":1862,"v":-140},{"t":1876,"v":130},{"t":1890,"v":-90},{"t":1904,"v":70},{"t":1918,"v":-150},{"t":1932,"v":160},{"t":1946,"v":-100},
{"t":1960,"v":70},{"t":1974,"v":-60},{"t":1988,"v":50},{"t":2002,"v":-80},{"t":2016,"v":140},{"t":2030,"v":-130},{"t":2044,"v":90},{"t":2058,"v":-60},{"t":2072,"v":50},{"t":2086,"v":-70},
{"t":2100,"v":120},{"t":2114,"v":-150},{"t":2128,"v":140},{"t":2142,"v":-100},{"t":2156,"v":170},{"t":2170,"v":-120},{"t":2184,"v":70},{"t":2198,"v":-60},{"t":2212,"v":80},{"t":2226,"v":-140},
{"t":2240,"v":130},{"t":2254,"v":-80},{"t":2268,"v":60},{"t":2282,"v":-50},{"t":2296,"v":90},{"t":2310,"v":-150},{"t":2324,"v":160},{"t":2338,"v":-110},{"t":2352,"v":70},{"t":2366,"v":-60},
{"t":2380,"v":50},{"t":2394,"v":-80},{"t":2408,"v":120},{"t":2422,"v":-140},{"t":2436,"v":130},{"t":2450,"v":-200},{"t":2464,"v":240},{"t":2478,"v":-180},{"t":2492,"v":100},{"t":2506,"v":-70},
{"t":2520,"v":60},{"t":2534,"v":-90},{"t":2548,"v":150},{"t":2562,"v":-130},{"t":2576,"v":90},{"t":2590,"v":-60},{"t":2604,"v":50},{"t":2618,"v":-70},{"t":2632,"v":130},{"t":2646,"v":-160},
{"t":2660,"v":140},{"t":2674,"v":-90},{"t":2688,"v":60},{"t":2702,"v":-50},{"t":2716,"v":80},{"t":2730,"v":-140},{"t":2744,"v":150},{"t":2758,"v":-100},{"t":2772,"v":70},{"t":2786,"v":-60},
{"t":2800,"v":90},{"t":2814,"v":-180},{"t":2828,"v":200},{"t":2842,"v":-120},{"t":2856,"v":80},{"t":2870,"v":-60}
],
"a6": [
{"t":0,"v":-100},{"t":15,"v":180},{"t":39,"v":-200},{"t":63,"v":150},{"t":87,"v":-220},{"t":111,"v":200},{"t":135,"v":-180},{"t":159,"v":230},{"t":183,"v":-250},{"t":207,"v":380},{"t":231,"v":-420},
{"t":255,"v":440},{"t":279,"v":-380},{"t":303,"v":420},{"t":327,"v":-440},{"t":351,"v":400},{"t":375,"v":-350},{"t":399,"v":430},{"t":423,"v":-400},{"t":447,"v":300},{"t":471,"v":-260},
{"t":495,"v":280},{"t":519,"v":-300},{"t":543,"v":320},{"t":567,"v":-280},{"t":591,"v":250},{"t":615,"v":-270},{"t":639,"v":300},{"t":663,"v":-250},{"t":687,"v":260},{"t":711,"v":-300},
{"t":735,"v":280},{"t":759,"v":-320},{"t":783,"v":300},{"t":807,"v":-280},{"t":831,"v":330},{"t":855,"v":-300},{"t":879,"v":280},{"t":903,"v":-320},{"t":927,"v":300},{"t":951,"v":-260},
{"t":975,"v":310},{"t":999,"v":-300},{"t":1023,"v":340},{"t":1047,"v":-360},{"t":1071,"v":380},{"t":1095,"v":-340},{"t":1119,"v":360},{"t":1143,"v":-380},{"t":1167,"v":350},{"t":1191,"v":-330},
{"t":1215,"v":370},{"t":1239,"v":-350},{"t":1263,"v":340},{"t":1287,"v":-370},{"t":1311,"v":360},{"t":1335,"v":-330},{"t":1359,"v":300},{"t":1383,"v":-280},{"t":1407,"v":320},{"t":1431,"v":-300},
{"t":1455,"v":280},{"t":1479,"v":-310},{"t":1503,"v":300},{"t":1527,"v":-270},{"t":1551,"v":320},{"t":1575,"v":-300},{"t":1599,"v":280},{"t":1623,"v":-320},{"t":1647,"v":310},{"t":1671,"v":-290},
{"t":1695,"v":330},{"t":1719,"v":-300},{"t":1743,"v":280},{"t":1767,"v":-310},{"t":1791,"v":300},{"t":1815,"v":-340},{"t":1839,"v":380},{"t":1863,"v":-400},{"t":1887,"v":370},{"t":1911,"v":-380},
{"t":1935,"v":420},{"t":1959,"v":-390},{"t":1983,"v":360},{"t":2007,"v":-380},{"t":2031,"v":400},{"t":2055,"v":-360},{"t":2079,"v":380},{"t":2103,"v":-340},{"t":2127,"v":300},{"t":2151,"v":-320},
{"t":2175,"v":280},{"t":2199,"v":-300},{"t":2223,"v":320},{"t":2247,"v":-280},{"t":2271,"v":300},{"t":2295,"v":-310},{"t":2319,"v":280},{"t":2343,"v":-300},{"t":2367,"v":320},{"t":2391,"v":-290},
{"t":2415,"v":300},{"t":2439,"v":-320},{"t":2463,"v":340},{"t":2487,"v":-300},{"t":2511,"v":360},{"t":2535,"v":-380},{"t":2559,"v":370},{"t":2583,"v":-350},{"t":2607,"v":380},{"t":2631,"v":-400},
{"t":2655,"v":360},{"t":2679,"v":-380},{"t":2703,"v":400},{"t":2727,"v":-370},{"t":2751,"v":350},{"t":2775,"v":-380},{"t":2799,"v":390},{"t":2823,"v":-420},{"t":2847,"v":440},{"t":2871,"v":-400},{"t":2879,"v":-300}
],
"a7": [
{"t":0,"v":-420},{"t":41,"v":450},{"t":89,"v":-460},{"t":137,"v":470},{"t":185,"v":-450},{"t":233,"v":480},{"t":281,"v":-470},{"t":329,"v":500},{"t":377,"v":-480},{"t":425,"v":470},{"t":473,"v":-500},
{"t":521,"v":480},{"t":569,"v":-520},{"t":617,"v":460},{"t":665,"v":-480},{"t":713,"v":470},{"t":761,"v":-470},{"t":809,"v":480},{"t":857,"v":-460},{"t":905,"v":450},{"t":953,"v":-470},
{"t":1001,"v":470},{"t":1049,"v":-460},{"t":1097,"v":520},{"t":1145,"v":-480},{"t":1193,"v":480},{"t":1241,"v":-470},{"t":1289,"v":460},{"t":1337,"v":-450},{"t":1385,"v":470},{"t":1433,"v":-460},
{"t":1481,"v":450},{"t":1529,"v":-440},{"t":1577,"v":440},{"t":1625,"v":-430},{"t":1673,"v":430},{"t":1721,"v":-420},{"t":1769,"v":420},{"t":1817,"v":-400},{"t":1865,"v":440},{"t":1913,"v":-380},
{"t":1961,"v":500},{"t":2009,"v":-420},{"t":2057,"v":430},{"t":2105,"v":-420},{"t":2153,"v":400},{"t":2201,"v":-400},{"t":2249,"v":420},{"t":2297,"v":-450},{"t":2345,"v":440},{"t":2393,"v":-470},
{"t":2441,"v":420},{"t":2489,"v":-500},{"t":2537,"v":400},{"t":2585,"v":-520},{"t":2633,"v":380},{"t":2681,"v":-500},{"t":2729,"v":300},{"t":2777,"v":-400},{"t":2825,"v":250},{"t":2873,"v":-300},{"t":2879,"v":-280}
],
"a8": [
{"t":0,"v":-50},{"t":30,"v":-45},{"t":70,"v":0},{"t":120,"v":30},{"t":150,"v":25},{"t":190,"v":5},{"t":230,"v":-8},{"t":280,"v":-2},{"t":330,"v":6},{"t":380,"v":-4},{"t":430,"v":3},{"t":490,"v":-5},
{"t":550,"v":4},{"t":610,"v":-3},{"t":680,"v":5},{"t":750,"v":-4},{"t":820,"v":3},{"t":890,"v":-3},{"t":960,"v":5},{"t":1030,"v":-4},{"t":1100,"v":3},{"t":1170,"v":6},{"t":1240,"v":-3},{"t":1300,"v":2},
{"t":1373,"v":-12},{"t":1471,"v":28},{"t":1569,"v":-52},{"t":1701,"v":-12},{"t":1863,"v":-32},{"t":2074,"v":-72},{"t":2142,"v":28},{"t":2240,"v":-92},{"t":2353,"v":28},{"t":2485,"v":-80},{"t":2598,"v":16},{"t":2745,"v":-104},{"t":2877,"v":36}
],
"a9": [
{"t":0,"v":-52},{"t":172,"v":41},{"t":441,"v":-30},{"t":623,"v":16},{"t":784,"v":-37},{"t":946,"v":20},{"t":1078,"v":-22},{"t":1225,"v":-22},{"t":1338,"v":-22},{"t":1471,"v":1},{"t":1569,"v":-20},{"t":1863,"v":-16},{"t":2157,"v":-1},{"t":2289,"v":-16},{"t":2549,"v":-58},{"t":2662,"v":-52},{"t":2877,"v":33}
],
"a10": [
{"t":0,"v":-24},{"t":98,"v":8},{"t":196,"v":39},{"t":294,"v":39},{"t":603,"v":-49},{"t":721,"v":-41},{"t":931,"v":22},{"t":1015,"v":18},{"t":1225,"v":-45},{"t":1309,"v":-45},{"t":1422,"v":-13},{"t":1534,"v":14},{"t":1632,"v":14},{"t":1863,"v":-45},{"t":2191,"v":-3},{"t":2353,"v":-13},{"t":2583,"v":-35},{"t":2843,"v":-7},{"t":2877,"v":-5}
],
"a11": [
{"t":0,"v":2},{"t":113,"v":2},{"t":279,"v":2},{"t":441,"v":-6},{"t":686,"v":-19},{"t":868,"v":-19},{"t":1015,"v":-9},{"t":1260,"v":2},{"t":1422,"v":10},{"t":1534,"v":5},{"t":1779,"v":-11},{"t":2025,"v":-30},{"t":2270,"v":-30},{"t":2515,"v":-16},{"t":2843,"v":15},{"t":2877,"v":16}
],
"r": [
{"t":0,"v":333},{"t":98,"v":333},{"t":250,"v":350},{"t":441,"v":363},{"t":700,"v":365},{"t":931,"v":363},{"t":995,"v":345},{"t":1093,"v":340},{"t":1176,"v":325},{"t":1422,"v":323},{"t":1534,"v":300},{"t":1779,"v":267},{"t":2025,"v":240},{"t":2270,"v":223},{"t":2515,"v":202},{"t":2700,"v":200},{"t":2879,"v":200}
]
},
"vconcat": [
{"width": 587.5, "height": 18.7, "data": {"name": "o"},
 "mark": {"type": "line", "color": "#f23a3a", "strokeWidth": 1, "clip": true},
 "encoding": {"x": {"field": "t", "type": "quantitative", "scale": {"domain": [0, 2880], "nice": false}, "axis": null},
  "y": {"field": "v", "type": "quantitative", "scale": {"domain": [100, 1150], "nice": false, "zero": false}, "axis": {"title": "Original", "values": [1000, 600, 200]}}}},
{"width": 587.5, "height": 18.7, "data": {"name": "a1"},
 "mark": {"type": "line", "color": "#3b6fd1", "strokeWidth": 1.1, "clip": true},
 "encoding": {"x": {"field": "t", "type": "quantitative", "scale": {"domain": [0, 2880], "nice": false}, "axis": null},
  "y": {"field": "v", "type": "quantitative", "scale": {"domain": [-600, 600], "nice": false}, "axis": {"title": "IMF 1", "values": [400, 0, -400]}}}},
{"width": 587.5, "height": 18.7, "data": {"name": "a2"},
 "mark": {"type": "line", "color": "#3b6fd1", "strokeWidth": 1.1, "clip": true},
 "encoding": {"x": {"field": "t", "type": "quantitative", "scale": {"domain": [0, 2880], "nice": false}, "axis": null},
  "y": {"field": "v", "type": "quantitative", "scale": {"domain": [-300, 300], "nice": false}, "axis": {"title": "IMF 2", "values": [200, 0, -200]}}}},
{"width": 587.5, "height": 18.7, "data": {"name": "a3"},
 "mark": {"type": "line", "color": "#3b6fd1", "strokeWidth": 1.1, "clip": true},
 "encoding": {"x": {"field": "t", "type": "quantitative", "scale": {"domain": [0, 2880], "nice": false}, "axis": null},
  "y": {"field": "v", "type": "quantitative", "scale": {"domain": [-300, 300], "nice": false}, "axis": {"title": "IMF 3", "values": [200, 0, -200]}}}},
{"width": 587.5, "height": 18.7, "data": {"name": "a4"},
 "mark": {"type": "line", "color": "#3b6fd1", "strokeWidth": 1, "clip": true},
 "encoding": {"x": {"field": "t", "type": "quantitative", "scale": {"domain": [0, 2880], "nice": false}, "axis": null},
  "y": {"field": "v", "type": "quantitative", "scale": {"domain": [-300, 300], "nice": false}, "axis": {"title": "IMF 4", "values": [200, 0, -200]}}}},
{"width": 587.5, "height": 18.7, "data": {"name": "a5"},
 "mark": {"type": "line", "color": "#3b6fd1", "strokeWidth": 1, "clip": true},
 "encoding": {"x": {"field": "t", "type": "quantitative", "scale": {"domain": [0, 2880], "nice": false}, "axis": null},
  "y": {"field": "v", "type": "quantitative", "scale": {"domain": [-300, 300], "nice": false}, "axis": {"title": "IMF 5", "values": [200, 0, -200]}}}},
{"width": 587.5, "height": 18.7, "data": {"name": "a6"},
 "mark": {"type": "line", "color": "#3b6fd1", "strokeWidth": 1, "interpolate": "monotone", "clip": true},
 "encoding": {"x": {"field": "t", "type": "quantitative", "scale": {"domain": [0, 2880], "nice": false}, "axis": null},
  "y": {"field": "v", "type": "quantitative", "scale": {"domain": [-600, 600], "nice": false}, "axis": {"title": "IMF 6", "values": [500, 0, -500]}}}},
{"width": 587.5, "height": 18.7, "data": {"name": "a7"},
 "mark": {"type": "line", "color": "#3b6fd1", "strokeWidth": 1, "interpolate": "monotone", "clip": true},
 "encoding": {"x": {"field": "t", "type": "quantitative", "scale": {"domain": [0, 2880], "nice": false}, "axis": null},
  "y": {"field": "v", "type": "quantitative", "scale": {"domain": [-600, 600], "nice": false}, "axis": {"title": "IMF 7", "values": [500, 0, -500]}}}},
{"width": 587.5, "height": 18.7, "data": {"name": "a8"},
 "mark": {"type": "line", "color": "#3b6fd1", "strokeWidth": 1.2, "interpolate": "monotone", "clip": true},
 "encoding": {"x": {"field": "t", "type": "quantitative", "scale": {"domain": [0, 2880], "nice": false}, "axis": null},
  "y": {"field": "v", "type": "quantitative", "scale": {"domain": [-110, 110], "nice": false}, "axis": {"title": "IMF 8", "values": [100, 0, -100]}}}},
{"width": 587.5, "height": 18.7, "data": {"name": "a9"},
 "mark": {"type": "line", "color": "#3b6fd1", "strokeWidth": 1.2, "interpolate": "monotone", "clip": true},
 "encoding": {"x": {"field": "t", "type": "quantitative", "scale": {"domain": [0, 2880], "nice": false}, "axis": null},
  "y": {"field": "v", "type": "quantitative", "scale": {"domain": [-60, 60], "nice": false}, "axis": {"title": "IMF 9", "values": [50, 0, -50]}}}},
{"width": 587.5, "height": 18.7, "data": {"name": "a10"},
 "mark": {"type": "line", "color": "#3b6fd1", "strokeWidth": 1.2, "interpolate": "monotone", "clip": true},
 "encoding": {"x": {"field": "t", "type": "quantitative", "scale": {"domain": [0, 2880], "nice": false}, "axis": null},
  "y": {"field": "v", "type": "quantitative", "scale": {"domain": [-60, 60], "nice": false}, "axis": {"title": "IMF 10", "values": [50, 0, -50]}}}},
{"width": 587.5, "height": 18.7, "data": {"name": "a11"},
 "mark": {"type": "line", "color": "#3b6fd1", "strokeWidth": 1.2, "interpolate": "monotone", "clip": true},
 "encoding": {"x": {"field": "t", "type": "quantitative", "scale": {"domain": [0, 2880], "nice": false}, "axis": null},
  "y": {"field": "v", "type": "quantitative", "scale": {"domain": [-32, 32], "nice": false}, "axis": {"title": "IMF 11", "values": [20, 0, -20]}}}},
{"width": 587.5, "height": 18.7, "data": {"name": "r"},
 "mark": {"type": "line", "color": "#f5854a", "strokeWidth": 1.3, "interpolate": "monotone", "clip": true},
 "encoding": {"x": {"field": "t", "type": "quantitative", "scale": {"domain": [0, 2880], "nice": false}, "axis": {"values": [500, 1000, 1500, 2000, 2500], "format": "d", "title": null}},
  "y": {"field": "v", "type": "quantitative", "scale": {"domain": [195, 395], "nice": false, "zero": false}, "axis": {"title": "IMF 12", "values": [380, 300, 220]}}}}
]
}
